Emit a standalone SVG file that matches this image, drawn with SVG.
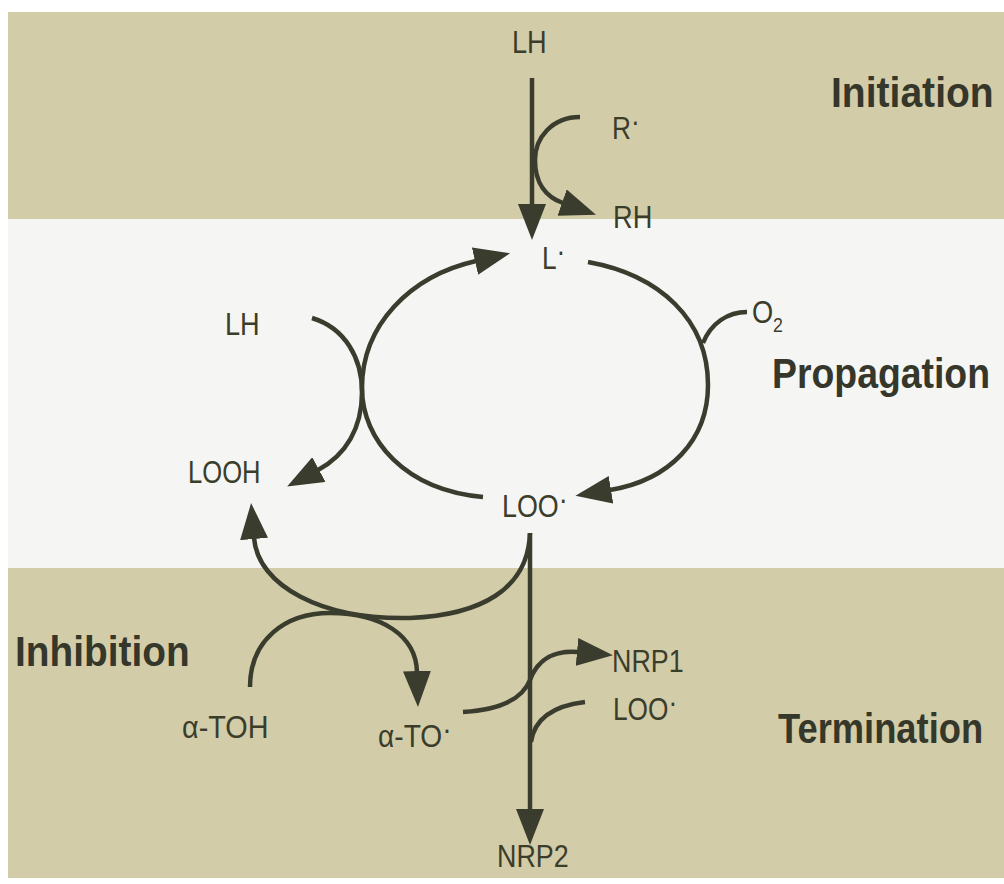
<svg xmlns="http://www.w3.org/2000/svg" width="1004" height="884" viewBox="0 0 1004 884">
<style>
.lbl{font-family:"Liberation Sans Narrow","Liberation Sans",Arial,sans-serif;font-size:32px;fill:#3b3d2b}
.sub{font-family:"Liberation Sans Narrow","Liberation Sans",Arial,sans-serif;font-size:21px;fill:#3b3d2b}
.sec{font-family:"Liberation Sans Narrow","Liberation Sans",Arial,sans-serif;font-size:42px;font-weight:bold;fill:#35372a}
.ln{fill:none;stroke:#3a3d2e;stroke-width:4.5;stroke-linecap:butt}
</style>
<defs>
<marker id="ah" viewBox="0 0 36 28" refX="1" refY="14" markerWidth="36" markerHeight="28" markerUnits="userSpaceOnUse" orient="auto">
<path d="M0,0 L36,14 L0,28 z" fill="#3a3d2e"/>
</marker>
</defs>
<g id="background">
<rect x="0" y="0" width="1004" height="884" fill="#ffffff"/>
<rect x="8" y="12" width="996" height="207" fill="#d3cca9"/>
<rect x="8" y="219" width="996" height="349" fill="#f5f5f3"/>
<rect x="8" y="568" width="996" height="310" fill="#d3cca9"/>
</g>
<g id="connectors">
<path class="ln" d="M532,78 L532,205" marker-end="url(#ah)"/>
<path class="ln" d="M580,117 C552,117 535,138 535,160 C535,183 546,197 563,203" marker-end="url(#ah)"/>
<path class="ln" d="M483,497 C405,490 362,440 362,388 C362,325 410,276 476,261" marker-end="url(#ah)"/>
<path class="ln" d="M588,262 C660,275 708,320 708,385 C708,440 670,480 610,490" marker-end="url(#ah)"/>
<path class="ln" d="M703,343 C711,323 728,312 747,312"/>
<path class="ln" d="M312,318 C345,328 362,358 362,392 C362,428 346,455 318,470" marker-end="url(#ah)"/>
<path class="ln" d="M530,533 L530,810" marker-end="url(#ah)"/>
<path class="ln" d="M530,533 C528,590 480,615 410,618 C322,620 258,586 254,538" marker-end="url(#ah)"/>
<path class="ln" d="M250,687 C250,640 285,613 330,613 C382,613 416,636 417,672" marker-end="url(#ah)"/>
<path class="ln" d="M463,712 C497,710 522,700 530,680 C538,658 556,650 578,652" marker-end="url(#ah)"/>
<path class="ln" d="M585,702 C560,705 535,715 531,742"/>
</g>
<g id="section-labels">
<text class="sec" transform="translate(831,107) scale(0.93,1)">Initiation</text>
<text class="sec" transform="translate(772,388) scale(0.89,1)">Propagation</text>
<text class="sec" transform="translate(15,666) scale(0.925,1)">Inhibition</text>
<text class="sec" transform="translate(778,743) scale(0.865,1)">Termination</text>
</g>
<g id="node-LH-top"><text class="lbl" transform="translate(512,53) scale(0.85,1)">LH</text></g>
<g id="node-R"><text class="lbl" transform="translate(612,139) scale(0.82,1)">R<tspan dy="-7">·</tspan></text></g>
<g id="node-RH"><text class="lbl" transform="translate(613,228) scale(0.85,1)">RH</text></g>
<g id="node-L"><text class="lbl" transform="translate(542,269) scale(0.82,1)">L<tspan dy="-7">·</tspan></text></g>
<g id="node-O2"><text class="lbl" transform="translate(752,323) scale(0.85,1)">O</text><text class="sub" transform="translate(773,332) scale(0.85,1)">2</text></g>
<g id="node-LH-left"><text class="lbl" transform="translate(225,335) scale(0.85,1)">LH</text></g>
<g id="node-LOOH"><text class="lbl" transform="translate(188,483) scale(0.8,1)">LOOH</text></g>
<g id="node-LOO"><text class="lbl" transform="translate(502,517) scale(0.84,1)">LOO<tspan dy="-7">·</tspan></text></g>
<g id="node-aTOH"><text class="lbl" transform="translate(182,738) scale(0.9,1)">α-TOH</text></g>
<g id="node-aTO"><text class="lbl" transform="translate(378,747) scale(0.88,1)">α-TO<tspan dy="-7">·</tspan></text></g>
<g id="node-NRP1"><text class="lbl" transform="translate(612,672) scale(0.84,1)">NRP1</text></g>
<g id="node-LOO2"><text class="lbl" transform="translate(613,720) scale(0.82,1)">LOO<tspan dy="-7">·</tspan></text></g>
<g id="node-NRP2"><text class="lbl" transform="translate(497,867) scale(0.84,1)">NRP2</text></g>
</svg>
